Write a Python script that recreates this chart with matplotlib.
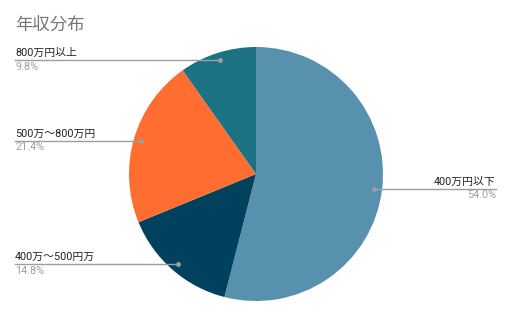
import numpy as np
import matplotlib
matplotlib.use('Agg')
import matplotlib.pyplot as plt

plt.rcParams['font.family'] = ['Roboto', 'Noto Sans CJK JP', 'DejaVu Sans']

title = '年収分布'
labels = ['400万円以下', '400万～500円万', '500万～800万円', '800万円以上']
values = [54.0, 14.8, 21.4, 9.8]
colors = ['#5791ae', '#00425e', '#ff6d31', '#1c7282']
label_side = ['right', 'left', 'left', 'left']

W, H = 512, 317
fig = plt.figure(figsize=(W / 100, H / 100), dpi=100)
ax = fig.add_axes([0, 0, 1, 1])

# pie centred in pixel coordinates of the figure
cx, cy, r = 256, H - 174, 127
wedges, _ = ax.pie(values, colors=colors, startangle=90, counterclock=False,
                   center=(cx, cy), radius=r, frame=True,
                   wedgeprops=dict(linewidth=0))
ax.set_xlim(0, W)
ax.set_ylim(0, H)
ax.set_aspect('equal')
ax.axis('off')

for w, lab, val, side in zip(wedges, labels, values, label_side):
    ang = np.deg2rad((w.theta1 + w.theta2) / 2)
    dx = cx + 0.94 * r * np.cos(ang)
    dy = cy + 0.94 * r * np.sin(ang)
    if side == 'left':
        x0, x1, ha, tx = 15, dx, 'left', 15
    else:
        x0, x1, ha, tx = dx, 496, 'right', 496
    ax.plot([x0, x1], [dy, dy], color='#9e9e9e', lw=1, zorder=3)
    ax.plot([dx], [dy], 'o', color='#9e9e9e', ms=2.5, zorder=4)
    ax.text(tx, dy + 2, lab, ha=ha, va='bottom', fontsize=7.8, color='#222222')
    ax.text(tx, dy - 1.5, f'{val:.1f}%', ha=ha, va='top', fontsize=7.8, color='#9e9e9e')

fig.text(15 / W, 1 - 25 / H, title, ha='left', va='center', fontsize=12.5, color='#757575')

fig.savefig('out.png', dpi=100)
